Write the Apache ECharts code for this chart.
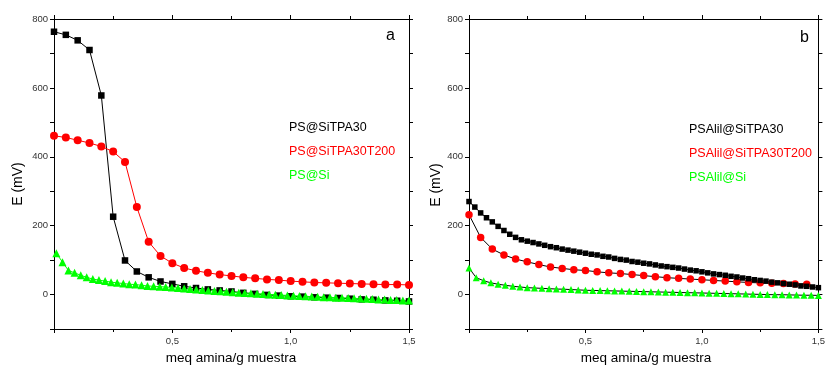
<!DOCTYPE html>
<html><head><meta charset="utf-8">
<script src="https://cdn.jsdelivr.net/npm/echarts@6/dist/echarts.min.js"></script>
<style>html,body{margin:0;padding:0;background:#fff}#c{width:828px;height:367px}</style>
</head><body><div id="c"></div>
<script>
// ---- Panel a ----
const xA_black = [0,0.05,0.1,0.15,0.2,0.25,0.3,0.35,0.4,0.45,0.5,0.55,0.6,0.65,0.7,0.75,0.8,0.85,0.9,0.95,1.0,1.05,1.1,1.15,1.2,1.25,1.3,1.35,1.4,1.45,1.5];
const yA_black = [763,754,738,710,578,226,99,67,50,38,31,24,19,15,12,9,5,2,-1,-3,-5,-6,-8,-9,-10,-12,-14,-15,-17,-18,-20];
const xA_red = [0,0.05,0.1,0.15,0.2,0.25,0.3,0.35,0.4,0.45,0.5,0.55,0.6,0.65,0.7,0.75,0.8,0.85,0.9,0.95,1.0,1.05,1.1,1.15,1.2,1.25,1.3,1.35,1.4,1.45,1.5];
const yA_red = [461,456,448,440,430,415,385,254,153,112,91,77,69,63,58,54,50,47,44,42,39,37,35,34,33,32,31,30,29,29,28];
const xA_green = [0.010,0.036,0.061,0.087,0.113,0.138,0.164,0.190,0.216,0.241,
 0.267,0.293,0.318,0.344,0.370,0.395,0.421,0.447,0.472,0.498,
 0.524,0.550,0.575,0.601,0.627,0.652,0.678,0.704,0.729,0.755,
 0.781,0.806,0.832,0.858,0.883,0.909,0.935,0.960,0.986,1.012,
 1.037,1.063,1.089,1.114,1.140,1.166,1.191,1.217,1.243,1.268,
 1.294,1.320,1.345,1.371,1.397,1.422,1.448,1.474,1.500];
const yA_green = [120,94,70,63,56,50,45,42,39,36,
 34,32,30,29,27,25,24,23,22,20.5,
 19,17.5,16,14.5,13,12,10.5,9.5,8,7,
 5.5,4.5,3.5,2.5,1.5,0.5,-0.5,-1.5,-2.5,-3.5,
 -4.5,-5,-6,-6.5,-7.5,-8,-9,-9.5,-10,-11,
 -11.5,-12.5,-13,-14,-14.5,-15.5,-16,-17,-17.5];
const namesA = ['PS@SiTPA30','PS@SiTPA30T200','PS@Si'];

// ---- Panel b ----
const xB_black = [0,0.025,0.05,0.075,0.1,0.125,0.15,0.175,0.2,0.225,
 0.25,0.275,0.3,0.325,0.35,0.375,0.4,0.425,0.45,0.475,
 0.5,0.525,0.55,0.575,0.6,0.625,0.65,0.675,0.7,0.725,
 0.75,0.775,0.8,0.825,0.85,0.875,0.9,0.925,0.95,0.975,
 1.0,1.025,1.05,1.075,1.1,1.125,1.15,1.175,1.2,1.225,
 1.25,1.275,1.3,1.325,1.35,1.375,1.4,1.425,1.45,1.475,1.5];
const yB_black = [270,254,237,223,211,198,186,175,166,159,
 155,151,147,143,139,136,132,129,126,123,
 120,117,115,111,109,105,102,100,96,94,
 91,89,86,83,81,79,77,74,71,69,
 66,63,60,58,56,53,51,48,46,43,
 41,39,36,34,32,30,28,25,24,22,20];
const xB_red = [0,0.05,0.1,0.15,0.2,0.25,0.3,0.35,0.4,0.45,0.5,0.55,0.6,0.65,0.7,0.75,0.8,0.85,0.9,0.95,1.0,1.05,1.1,1.15,1.2,1.25,1.3,1.35,1.4,1.45];
const yB_red = [232,166,132,115,103,95,87,80,76,72,70,66,63,61,58,55,52,49,47,45,43,41,39,37,35,34,33,32,31,30];
const xB_green = [0,0.031,0.063,0.094,0.125,0.156,0.188,0.219,0.25,0.281,
 0.313,0.344,0.375,0.406,0.438,0.469,0.5,0.531,0.563,0.594,
 0.625,0.656,0.688,0.719,0.75,0.781,0.813,0.844,0.875,0.906,
 0.938,0.969,1.0,1.031,1.063,1.094,1.125,1.156,1.188,1.219,
 1.25,1.281,1.313,1.344,1.375,1.406,1.438,1.469,1.5];
const yB_green = [77,49,40,34,30,27,24,22,20,19,
 18,17,16,15.5,14.5,13.5,12.5,12,11.5,11,
 10.5,10,9.5,9,8.5,8,7.5,7,6.5,6,
 5.5,5,4.5,4,3.5,3,2.5,2,1.5,1,
 0.5,0,-0.5,-0.5,-1,-1.5,-2,-2,-2.5];
const namesB = ['PSAlil@SiTPA30','PSAlil@SiTPA30T200','PSAlil@Si'];

const yTicks = [0,200,400,600,800];
const xTicks = ['0,5','1,0','1,5'];

const FONT = 'Liberation Sans, Arial, sans-serif';
const GREEN = '#00ff00';
const zip = (xs, ys) => xs.map((x, i) => [x, ys[i]]);
const fmtX = v => { const s = v.toFixed(1).replace('.', ','); return xTicks.indexOf(s) >= 0 ? s : ''; };
const fmtY = v => yTicks.indexOf(v) >= 0 ? String(v) : '';

function xAxisDef(gi, pos) {
  const bottom = pos === 'bottom';
  return {
    type: 'value', gridIndex: gi, position: pos, min: 0, max: 1.5, interval: 0.5,
    axisLine: { show: true, onZero: false, lineStyle: { color: '#000', width: 1 } },
    axisTick: { show: true, inside: false, length: 4, lineStyle: { color: '#000' } },
    minorTick: { show: true, splitNumber: 2, length: 3, lineStyle: { color: '#000' } },
    axisLabel: { show: bottom, formatter: fmtX, color: '#333', fontSize: 9.5, fontFamily: FONT, margin: 7 },
    splitLine: { show: false }
  };
}
function yAxisDef(gi, pos) {
  const left = pos === 'left';
  return {
    type: 'value', gridIndex: gi, position: pos, min: -100, max: 800, interval: 100,
    axisLine: { show: true, onZero: false, lineStyle: { color: '#000', width: 1 } },
    axisTick: { show: true, inside: false, length: 4, lineStyle: { color: '#000' } },
    axisLabel: { show: left, formatter: fmtY, color: '#333', fontSize: 9.5, fontFamily: FONT, margin: 6 },
    splitLine: { show: false }
  };
}
function ser(name, xi, yi, data, sym, size, color, lineColor) {
  return {
    name, type: 'line', xAxisIndex: xi, yAxisIndex: yi, data,
    symbol: sym, symbolSize: size, showAllSymbol: true,
    itemStyle: { color }, lineStyle: { color: lineColor, width: 1 },
    animation: false, clip: false
  };
}

const txt = (x, y, s, color, size, extra) => Object.assign({
  type: 'text', left: x, top: y,
  style: { text: s, fill: color, font: size + 'px ' + FONT }
}, extra || {});

const option = {
  animation: false,
  grid: [
    { left: 54, top: 19, width: 355, height: 310 },
    { left: 469, top: 19, width: 354, height: 310 }
  ],
  xAxis: [xAxisDef(0, 'bottom'), xAxisDef(0, 'top'), xAxisDef(1, 'bottom'), xAxisDef(1, 'top')],
  yAxis: [yAxisDef(0, 'left'), yAxisDef(0, 'right'), yAxisDef(1, 'left'), yAxisDef(1, 'right')],
  series: [
    ser(namesA[0], 0, 0, zip(xA_black, yA_black), 'rect', 6.5, '#000', '#000'),
    ser(namesA[1], 0, 0, zip(xA_red, yA_red), 'circle', 8, '#ff0000', '#ff0000'),
    ser(namesA[2], 0, 0, zip(xA_green, yA_green), 'triangle', 8, GREEN, GREEN),
    ser(namesB[1], 2, 2, zip(xB_red, yB_red), 'circle', 7.5, '#ff0000', '#000'),
    ser(namesB[0], 2, 2, zip(xB_black, yB_black), 'rect', 5.5, '#000', '#000'),
    ser(namesB[2], 2, 2, zip(xB_green, yB_green), 'triangle', 7, GREEN, '#000')
  ],
  graphic: [
    txt(289, 121, namesA[0], '#000', 12.5),
    txt(289, 145, namesA[1], '#ff0000', 12.5),
    txt(289, 169, namesA[2], GREEN, 12.5),
    txt(689, 123, namesB[0], '#000', 12.5),
    txt(689, 147, namesB[1], '#ff0000', 12.5),
    txt(689, 171, namesB[2], GREEN, 12.5),
    txt(386, 28, 'a', '#000', 16),
    txt(800, 30, 'b', '#000', 16),
    { type: 'text', x: 18, y: 184, rotation: Math.PI / 2,
      style: { text: 'E (mV)', fill: '#000', font: '14px ' + FONT, textAlign: 'center', textVerticalAlign: 'middle' } },
    { type: 'text', x: 436, y: 185, rotation: Math.PI / 2,
      style: { text: 'E (mV)', fill: '#000', font: '14px ' + FONT, textAlign: 'center', textVerticalAlign: 'middle' } },
    { type: 'text', x: 231, y: 358,
      style: { text: 'meq amina/g muestra', fill: '#000', font: '13.5px ' + FONT, textAlign: 'center', textVerticalAlign: 'middle' } },
    { type: 'text', x: 646, y: 358,
      style: { text: 'meq amina/g muestra', fill: '#000', font: '13.5px ' + FONT, textAlign: 'center', textVerticalAlign: 'middle' } }
  ]
};
const chart = echarts.init(document.getElementById('c'), null, { renderer: 'canvas' });
chart.setOption(option);
</script></body></html>
